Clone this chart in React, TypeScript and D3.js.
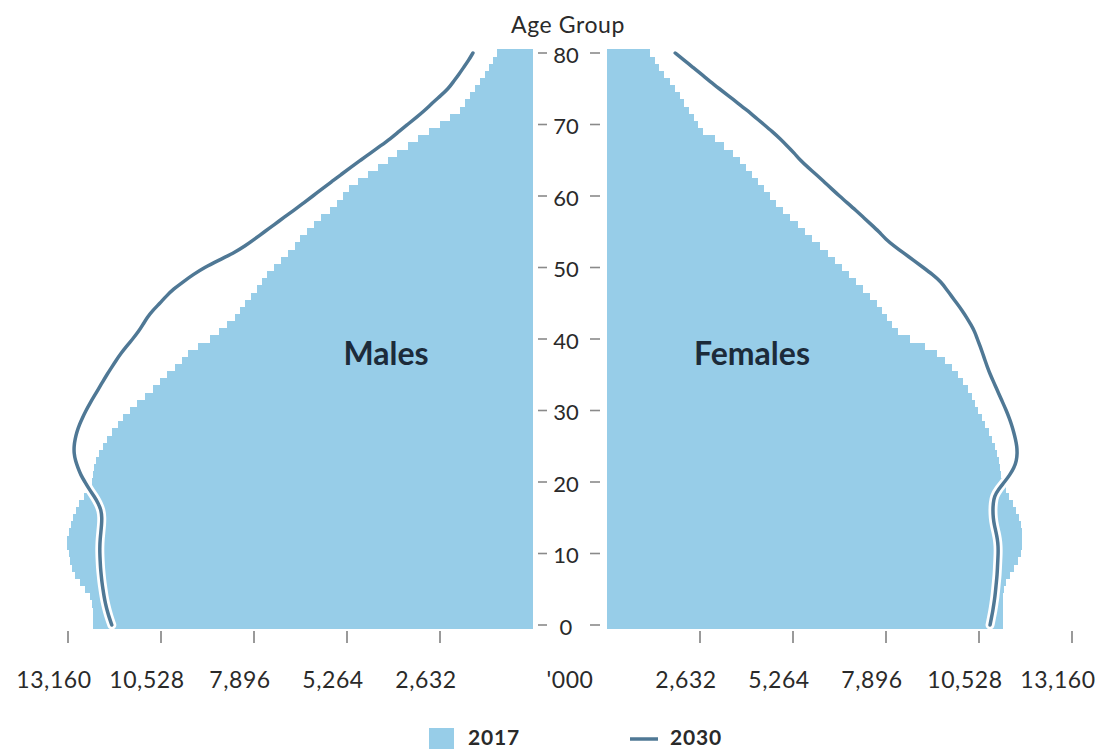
import React from "react";
import * as d3 from "d3";

// Single-year age groups 0..80
const ages: number[] = d3.range(0, 81);

// Population in thousands, 2017 (bars)
const males2017: number[] = [
  12454, 12454, 12454, 12482, 12540, 12680, 12822, 12963, 13048, 13105, 13133,
  13190, 13190, 13133, 13077, 13020, 12935, 12850, 12708, 12567, 12482,
  12454, 12426, 12369, 12284, 12171, 12058, 11916, 11746, 11605, 11407,
  11209, 10982, 10756, 10557, 10359, 10133, 9935, 9765, 9482, 9142,
  8888, 8661, 8435, 8293, 8152, 7982, 7800, 7671, 7529, 7331,
  7133, 6935, 6736, 6595, 6397, 6199, 6001, 5746, 5548, 5378,
  5208, 4953, 4670, 4387, 4104, 3849, 3538, 3255, 2944, 2632,
  2349, 2066, 1925, 1783, 1642, 1500, 1359, 1245, 1132, 1019,
];
const females2017: number[] = [
  11209, 11209, 11209, 11209, 11209, 11237, 11293, 11407, 11520, 11633, 11718,
  11746, 11746, 11746, 11718, 11661, 11577, 11492, 11379, 11293, 11209,
  11152, 11124, 11095, 11039, 10982, 10897, 10812, 10699, 10614, 10501,
  10416, 10331, 10218, 10076, 9935, 9765, 9567, 9340, 9001, 8576,
  8237, 8067, 7925, 7784, 7642, 7444, 7246, 7048, 6850, 6652,
  6453, 6255, 6029, 5803, 5604, 5406, 5180, 4982, 4783, 4614,
  4444, 4274, 4104, 3934, 3765, 3566, 3312, 3057, 2717, 2576,
  2462, 2321, 2179, 2066, 1925, 1783, 1613, 1472, 1359, 1217,
];

// Population in thousands, 2030 (lines)
const males2030: number[] = [
  11920, 11990, 12050, 12100, 12140, 12170, 12200, 12220, 12240, 12250, 12260,
  12260, 12250, 12230, 12210, 12200, 12220, 12300, 12420, 12560, 12680,
  12800, 12880, 12950, 12990, 12990, 12960, 12910, 12840, 12750, 12650,
  12540, 12420, 12300, 12180, 12060, 11930, 11800, 11660, 11500, 11330,
  11170, 11040, 10920, 10760, 10560, 10380, 10170, 9900, 9620, 9300,
  8900, 8480, 8150, 7870, 7600, 7320, 7050, 6770, 6500, 6230,
  5970, 5700, 5430, 5160, 4880, 4600, 4320, 4040, 3800, 3550,
  3300, 3060, 2850, 2620, 2400, 2250, 2100, 1960, 1820, 1700,
];
const females2030: number[] = [
  10840, 10880, 10920, 10950, 10980, 11000, 11020, 11040, 11050, 11060, 11070,
  11070, 11050, 11010, 10960, 10930, 10920, 10930, 10960, 11080, 11250,
  11400, 11520, 11590, 11610, 11600, 11560, 11510, 11450, 11380, 11300,
  11210, 11120, 11030, 10940, 10850, 10770, 10700, 10630, 10560, 10480,
  10410, 10300, 10180, 10050, 9900, 9750, 9600, 9450, 9220, 8950,
  8680, 8400, 8130, 7880, 7700, 7480, 7260, 7040, 6810, 6580,
  6360, 6140, 5920, 5690, 5470, 5300, 5100, 4900, 4680, 4440,
  4200, 3960, 3700, 3440, 3180, 2920, 2680, 2430, 2180, 1930,
];

const xTickValues: number[] = [2632, 5264, 7896, 10528, 13160];
const yTickValues: number[] = [0, 10, 20, 30, 40, 50, 60, 70, 80];
const legendLabels: string[] = ["2017", "2030"];
const sideLabels: string[] = ["Males", "Females"];
const unitLabel = "'000";
const axisTitle = "Age Group";

const BAR = "#97cde8";
const LINE = "#4f7895";
const TEXT = "#2a2a2a";
const FONT = "Lato, 'Noto Sans', sans-serif";

export default function App() {
  const W = 1109;
  const H = 749;
  const y = d3.scaleLinear().domain([0, 80]).range([625, 53]);
  const xL = d3.scaleLinear().domain([0, 13160]).range([533, 68]);
  const xR = d3.scaleLinear().domain([0, 13160]).range([607, 1072]);
  const step = Math.abs(y(0) - y(1));
  const fmt = d3.format(",");

  const lineL = d3
    .line<number>()
    .x((v) => xL(v))
    .y((_, i) => y(ages[i]))
    .curve(d3.curveBasis);
  const lineR = d3
    .line<number>()
    .x((v) => xR(v))
    .y((_, i) => y(ages[i]))
    .curve(d3.curveBasis);

  const axisY = 631;
  const labelY = 688;
  const centerX = (xL(0) + xR(0)) / 2;

  return (
    <svg
      width={W}
      height={H}
      style={{ position: "absolute", left: 0, top: 0, background: "#fff" }}
      fontFamily={FONT}
    >
      {/* 2017 bars */}
      <g shapeRendering="crispEdges">
        {ages.map((a, i) => (
          <rect
            key={"m" + a}
            x={xL(males2017[i])}
            y={y(a) - step / 2}
            width={xL(0) - xL(males2017[i])}
            height={step + 0.4}
            fill={BAR}
          />
        ))}
        {ages.map((a, i) => (
          <rect
            key={"f" + a}
            x={xR(0)}
            y={y(a) - step / 2}
            width={xR(females2017[i]) - xR(0)}
            height={step + 0.4}
            fill={BAR}
          />
        ))}
      </g>

      {/* 2030 lines with white halo */}
      <path d={lineL(males2030) || ""} fill="none" stroke="#fff" strokeWidth={9} strokeLinecap="round" />
      <path d={lineR(females2030) || ""} fill="none" stroke="#fff" strokeWidth={9} strokeLinecap="round" />
      <path d={lineL(males2030) || ""} fill="none" stroke={LINE} strokeWidth={3.5} strokeLinecap="round" />
      <path d={lineR(females2030) || ""} fill="none" stroke={LINE} strokeWidth={3.5} strokeLinecap="round" />

      {/* Y axis (age) */}
      <text x={centerX - 2} y={33} textAnchor="middle" fontSize={23} fill={TEXT} letterSpacing={0.6}>
        {axisTitle}
      </text>
      {yTickValues.map((t) => (
        <g key={"yt" + t}>
          <line x1={538} x2={547} y1={y(t)} y2={y(t)} stroke="#8a8a8a" strokeWidth={1.6} />
          <line x1={590} x2={600} y1={y(t)} y2={y(t)} stroke="#8a8a8a" strokeWidth={1.6} />
          <text x={566} y={y(t) + 4} textAnchor="middle" dominantBaseline="middle" fontSize={22} fill={TEXT}>
            {t}
          </text>
        </g>
      ))}

      {/* X axes */}
      {xTickValues.map((t) => (
        <line key={"xl" + t} x1={xL(t)} x2={xL(t)} y1={axisY} y2={axisY + 12}
          stroke="#9a9a9a" strokeWidth={2} />
      ))}
      {xTickValues.map((t) => (
        <line key={"xr" + t} x1={xR(t)} x2={xR(t)} y1={axisY} y2={axisY + 12}
          stroke="#9a9a9a" strokeWidth={2} />
      ))}
      {xTickValues.map((t) => (
        <text key={"xlt" + t} x={xL(t) - 14} y={labelY} textAnchor="middle" fontSize={23} fill={TEXT} letterSpacing={0.6}>
          {fmt(t)}
        </text>
      ))}
      {xTickValues.map((t) => (
        <text key={"xrt" + t} x={xR(t) - 14} y={labelY} textAnchor="middle" fontSize={23} fill={TEXT} letterSpacing={0.6}>
          {fmt(t)}
        </text>
      ))}
      <text x={centerX} y={labelY} textAnchor="middle" fontSize={23} fill={TEXT} letterSpacing={0.6}>
        {unitLabel}
      </text>

      {/* Side labels */}
      <text x={386} y={365} textAnchor="middle" fontSize={32} fontWeight={700} fill="#1c2b3a">
        {sideLabels[0]}
      </text>
      <text x={752} y={365} textAnchor="middle" fontSize={32} fontWeight={700} fill="#1c2b3a">
        {sideLabels[1]}
      </text>

      {/* Legend */}
      <rect x={429} y={728} width={25} height={21} fill={BAR} />
      <text x={468} y={745} fontSize={21} fontWeight={700} fill={TEXT} letterSpacing={0.8}>
        {legendLabels[0]}
      </text>
      <line x1={630} x2={658} y1={739} y2={739} stroke={LINE} strokeWidth={3.5} />
      <text x={670} y={745} fontSize={21} fontWeight={700} fill={TEXT} letterSpacing={0.8}>
        {legendLabels[1]}
      </text>
    </svg>
  );
}
